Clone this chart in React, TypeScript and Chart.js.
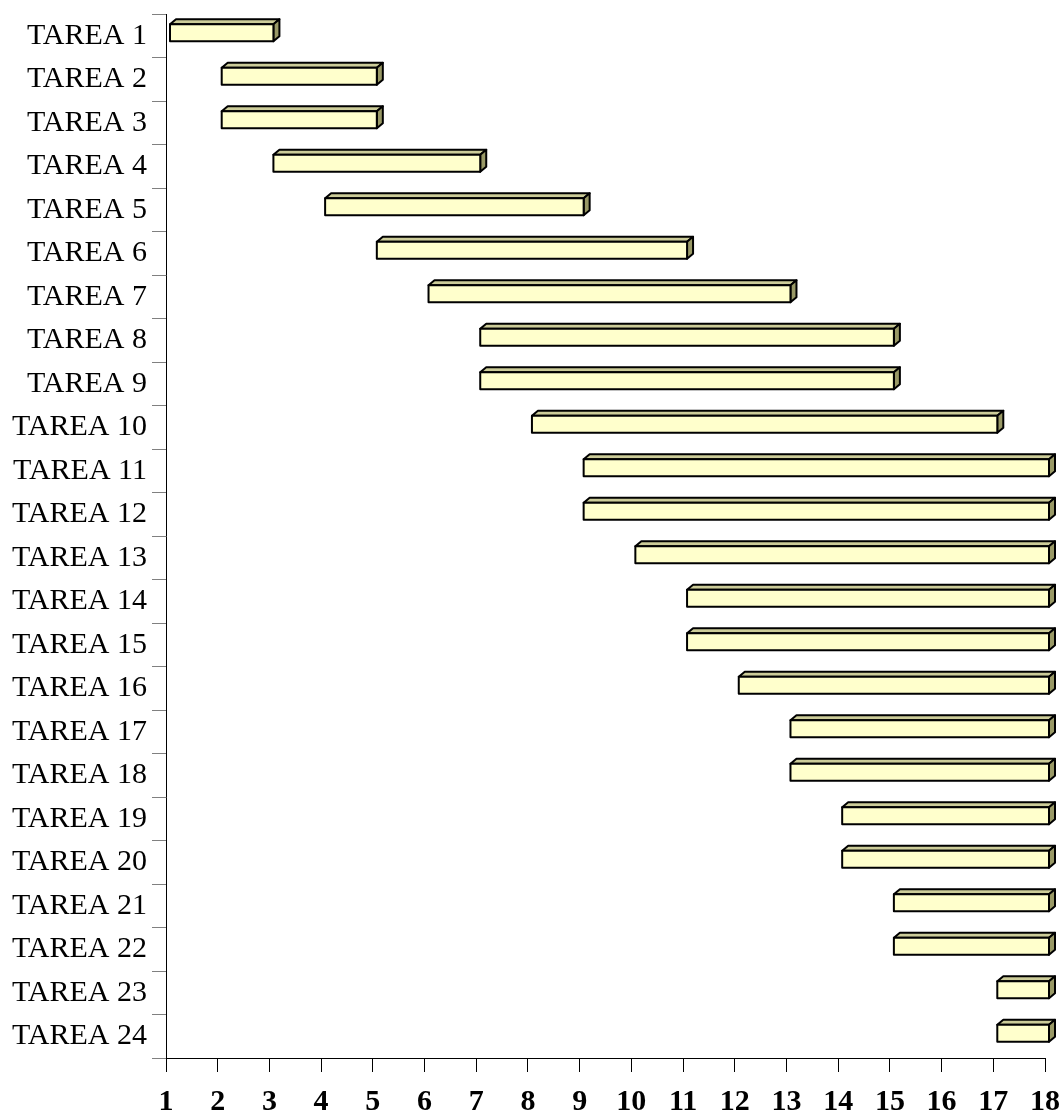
import React, { useEffect, useRef } from "react";
import { Chart, registerables } from "chart.js";

Chart.register(...registerables);

const tasks = [
  "TAREA 1", "TAREA 2", "TAREA 3", "TAREA 4", "TAREA 5", "TAREA 6",
  "TAREA 7", "TAREA 8", "TAREA 9", "TAREA 10", "TAREA 11", "TAREA 12",
  "TAREA 13", "TAREA 14", "TAREA 15", "TAREA 16", "TAREA 17", "TAREA 18",
  "TAREA 19", "TAREA 20", "TAREA 21", "TAREA 22", "TAREA 23", "TAREA 24",
];
const starts = [1, 2, 2, 3, 4, 5, 6, 7, 7, 8, 9, 9, 10, 11, 11, 12, 13, 13, 14, 14, 15, 15, 17, 17];
const ends = [3, 5, 5, 7, 9, 11, 13, 15, 15, 17, 18, 18, 18, 18, 18, 18, 18, 18, 18, 18, 18, 18, 18, 18];
const xMin = 1;
const xMax = 18;

const FRONT = "#FFFFCC";
const TOP = "#CCCC99";
const SIDE = "#999966";

const bar3d = {
  id: "bar3d",
  afterDatasetsDraw(chart: any) {
    const ctx = chart.ctx;
    const meta = chart.getDatasetMeta(0);
    ctx.save();
    ctx.lineWidth = 2;
    ctx.strokeStyle = "#000";
    ctx.lineJoin = "round";
    meta.data.forEach((el: any) => {
      const p = el.getProps(["x", "base", "y"], true);
      const left = Math.min(p.x, p.base) + 4;
      const right = Math.max(p.x, p.base) + 4;
      const top = p.y - 11.5;
      const bottom = p.y + 5.5;
      const dx = 6;
      const dy = 5;
      ctx.beginPath();
      ctx.moveTo(left, top);
      ctx.lineTo(left + dx, top - dy);
      ctx.lineTo(right + dx, top - dy);
      ctx.lineTo(right, top);
      ctx.closePath();
      ctx.fillStyle = TOP;
      ctx.fill();
      ctx.stroke();
      ctx.beginPath();
      ctx.moveTo(right, top);
      ctx.lineTo(right + dx, top - dy);
      ctx.lineTo(right + dx, bottom - dy);
      ctx.lineTo(right, bottom);
      ctx.closePath();
      ctx.fillStyle = SIDE;
      ctx.fill();
      ctx.stroke();
      ctx.beginPath();
      ctx.rect(left, top, right - left, bottom - top);
      ctx.fillStyle = FRONT;
      ctx.fill();
      ctx.stroke();
    });
    ctx.restore();
  },
};

export default function App() {
  const ref = useRef<HTMLCanvasElement>(null);
  useEffect(() => {
    if (!ref.current) return;
    const chart = new Chart(ref.current, {
      type: "bar",
      data: {
        labels: tasks,
        datasets: [
          {
            data: tasks.map((_, i) => [starts[i], ends[i]]) as any,
            backgroundColor: "rgba(0,0,0,0)",
            borderWidth: 0,
            barThickness: 17,
          },
        ],
      },
      options: {
        indexAxis: "y",
        responsive: false,
        animation: false,
        layout: { padding: { top: 22, right: 15, left: 0, bottom: 0 } },
        plugins: { legend: { display: false }, tooltip: { enabled: false } },
        scales: {
          x: {
            type: "linear",
            min: xMin,
            max: xMax,
            afterFit: (s: any) => {
              s.height = 54;
              s.paddingLeft = 0;
              s.paddingRight = 0;
            },
            ticks: {
              stepSize: 1,
              color: "#000",
              padding: 12,
              maxRotation: 0,
              font: { family: "'Liberation Serif', 'Times New Roman', serif", size: 30, weight: "bold" },
            },
            grid: {
              drawOnChartArea: false,
              drawTicks: true,
              tickLength: 14,
              color: "#000",
            },
            border: { color: "#000", width: 1 },
          },
          y: {
            type: "category",
            afterFit: (s: any) => {
              s.width = 158;
              s.paddingTop = 0;
              s.paddingBottom = 0;
            },
            ticks: {
              color: "#000",
              padding: 5,
              font: { family: "'Liberation Serif', 'Times New Roman', serif", size: 30 },
            },
            grid: {
              drawOnChartArea: false,
              drawTicks: true,
              tickLength: 14,
              offset: true,
              color: "#808080",
            },
            border: { color: "#000", width: 1 },
          },
        },
      },
      plugins: [bar3d],
    });
    return () => chart.destroy();
  }, []);
  return (
    <canvas
      ref={ref}
      width={1052}
      height={1120}
      style={{ display: "block", position: "absolute", left: 8, top: -8 }}
    />
  );
}
